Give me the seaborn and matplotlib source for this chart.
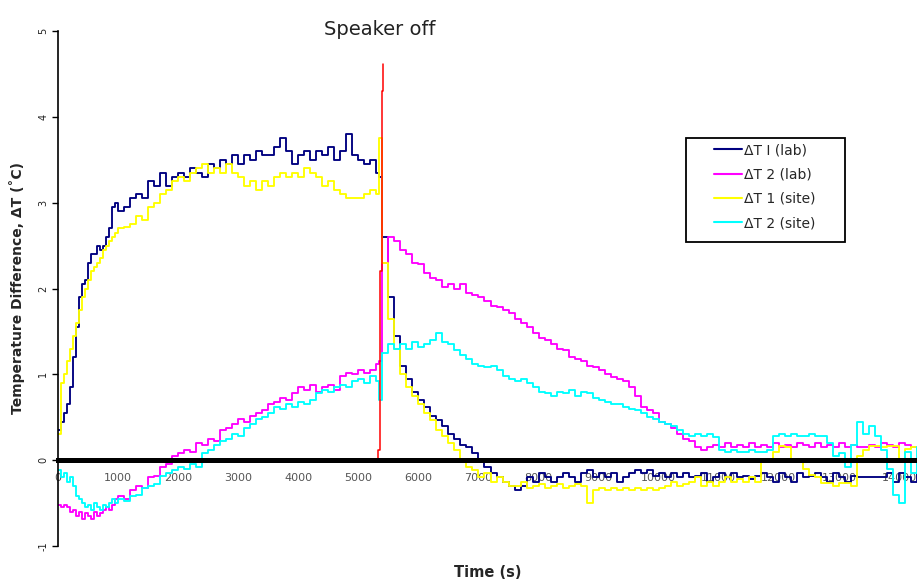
import numpy as np
import pandas as pd
import matplotlib
matplotlib.use("Agg")
import matplotlib.pyplot as plt
import seaborn as sns
from matplotlib.lines import Line2D
from matplotlib.patches import Rectangle

# ---------------- data ----------------
time_early = np.arange(0, 1000, 50)
time_mid = np.arange(1000, 5400, 100)
time_off = np.array([5350])
time_late = np.arange(5400, 14400, 100)
time_s = np.concatenate([time_early, time_mid, time_off, time_late])

dT1_lab = [
    0.35, 0.45, 0.55, 0.65, 0.85, 1.2, 1.55, 1.9, 2.05, 2.1,
    2.3, 2.4, 2.4, 2.5, 2.45, 2.5, 2.6, 2.7, 2.95, 3.0,
    2.9, 2.95, 3.05, 3.1, 3.05, 3.25, 3.2, 3.35, 3.2, 3.3,
    3.35, 3.3, 3.4, 3.35, 3.3, 3.45, 3.4, 3.5, 3.45, 3.55,
    3.45, 3.55, 3.5, 3.6, 3.55, 3.55, 3.65, 3.75, 3.6, 3.45,
    3.55, 3.6, 3.5, 3.6, 3.55, 3.65, 3.5, 3.6, 3.8, 3.55,
    3.5, 3.45, 3.5, 3.35,
    3.3,
    2.6, 1.9, 1.45, 1.1, 0.95, 0.8, 0.7, 0.62, 0.52, 0.47,
    0.4, 0.3, 0.25, 0.18, 0.15, 0.08, 0.0, -0.08, -0.15, -0.2,
    -0.25, -0.3, -0.35, -0.3, -0.2, -0.25, -0.15, -0.2, -0.25, -0.2,
    -0.15, -0.2, -0.25, -0.15, -0.12, -0.2, -0.15, -0.2, -0.15, -0.25,
    -0.2, -0.15, -0.12, -0.15, -0.12, -0.18, -0.15, -0.2, -0.15, -0.2,
    -0.15, -0.2, -0.18, -0.15, -0.25, -0.2, -0.15, -0.2, -0.15, -0.2,
    -0.18, -0.22, -0.18, -0.15, -0.2, -0.25, -0.15, -0.2, -0.25, -0.15,
    -0.2, -0.18, -0.15, -0.2, -0.25, -0.15, -0.2, -0.25, -0.18, -0.2,
    -0.2, -0.2, -0.2, -0.2, -0.15, -0.25, -0.15, -0.2, -0.25, -0.15,
]

dT2_lab = [
    -0.52, -0.55, -0.52, -0.55, -0.6, -0.58, -0.65, -0.6, -0.68, -0.62,
    -0.65, -0.68, -0.6, -0.65, -0.62, -0.58, -0.55, -0.58, -0.52, -0.45,
    -0.42, -0.45, -0.35, -0.3, -0.32, -0.2, -0.18, -0.08, -0.05, 0.05,
    0.08, 0.12, 0.1, 0.2, 0.18, 0.25, 0.22, 0.35, 0.38, 0.42,
    0.48, 0.45, 0.52, 0.55, 0.58, 0.65, 0.68, 0.72, 0.7, 0.78,
    0.85, 0.82, 0.88, 0.8, 0.85, 0.88, 0.82, 0.98, 1.02, 1.0,
    1.05, 1.02, 1.05, 1.12,
    1.15,
    2.3, 2.6, 2.55, 2.45, 2.4, 2.3, 2.28, 2.18, 2.12, 2.1,
    2.02, 2.05, 2.0, 2.05, 1.95, 1.92, 1.9, 1.85, 1.8, 1.78,
    1.75, 1.72, 1.65, 1.6, 1.55, 1.48, 1.42, 1.4, 1.35, 1.3,
    1.28, 1.2, 1.18, 1.15, 1.1, 1.08, 1.05, 1.0, 0.97, 0.95,
    0.92, 0.85, 0.75, 0.62, 0.58, 0.55, 0.45, 0.42, 0.38, 0.3,
    0.25, 0.22, 0.15, 0.12, 0.15, 0.18, 0.15, 0.2, 0.15, 0.18,
    0.15, 0.2, 0.15, 0.18, 0.15, 0.2, 0.15, 0.18, 0.15, 0.2,
    0.18, 0.15, 0.2, 0.15, 0.18, 0.15, 0.2, 0.15, 0.18, 0.15,
    0.15, 0.18, 0.15, 0.2, 0.18, 0.15, 0.2, 0.18, 0.15, 0.15,
]

dT1_site = [
    0.3, 0.9, 1.0, 1.15, 1.3, 1.45, 1.6, 1.75, 1.9, 2.0,
    2.1, 2.2, 2.25, 2.3, 2.35, 2.45, 2.5, 2.55, 2.6, 2.65,
    2.7, 2.72, 2.75, 2.85, 2.8, 2.95, 3.0, 3.1, 3.15, 3.25,
    3.3, 3.25, 3.35, 3.4, 3.45, 3.35, 3.4, 3.35, 3.45, 3.35,
    3.3, 3.2, 3.25, 3.15, 3.25, 3.2, 3.3, 3.35, 3.3, 3.35,
    3.3, 3.4, 3.35, 3.3, 3.2, 3.25, 3.15, 3.1, 3.05, 3.05,
    3.05, 3.1, 3.15, 3.1,
    3.75,
    2.3, 1.65, 1.3, 1.0, 0.85, 0.75, 0.65, 0.55, 0.47, 0.35,
    0.28, 0.2, 0.12, 0.0, -0.08, -0.12, -0.2, -0.15, -0.25, -0.2,
    -0.25, -0.3, -0.3, -0.25, -0.32, -0.3, -0.28, -0.32, -0.3, -0.28,
    -0.32, -0.3, -0.28, -0.3, -0.5, -0.35, -0.32, -0.35, -0.33, -0.35,
    -0.32, -0.35, -0.33, -0.35, -0.32, -0.35, -0.33, -0.3, -0.25, -0.3,
    -0.28, -0.25, -0.2, -0.3, -0.25, -0.3, -0.25, -0.2, -0.25, -0.22,
    -0.25, -0.2, -0.25, -0.02, 0.0, 0.1, 0.17, 0.15, -0.02, 0.0,
    -0.1, -0.17, -0.2, -0.27, -0.27, -0.3, -0.27, -0.27, -0.3, 0.05,
    0.12, 0.16, 0.16, 0.15, 0.16, 0.16, 0.0, 0.13, 0.15, 0.13,
]

dT2_site = [
    -0.12, -0.2, -0.15, -0.25, -0.2, -0.3, -0.42, -0.45, -0.5, -0.55,
    -0.52, -0.58, -0.5, -0.55, -0.58, -0.52, -0.55, -0.5, -0.45, -0.5,
    -0.45, -0.48, -0.42, -0.4, -0.32, -0.3, -0.28, -0.18, -0.15, -0.12,
    -0.08, -0.1, -0.05, -0.08, 0.08, 0.12, 0.18, 0.22, 0.25, 0.3,
    0.28, 0.38, 0.42, 0.48, 0.5, 0.55, 0.62, 0.6, 0.65, 0.62,
    0.68, 0.65, 0.7, 0.78, 0.82, 0.8, 0.85, 0.88, 0.85, 0.92,
    0.95, 0.9, 0.98, 0.92,
    0.7,
    1.25, 1.35, 1.3, 1.35, 1.3, 1.38, 1.32, 1.35, 1.4, 1.48,
    1.38, 1.35, 1.28, 1.22, 1.18, 1.12, 1.1, 1.08, 1.1, 1.05,
    0.98, 0.95, 0.92, 0.95, 0.9, 0.85, 0.8, 0.78, 0.75, 0.8,
    0.78, 0.82, 0.75, 0.8, 0.78, 0.72, 0.7, 0.68, 0.65, 0.65,
    0.62, 0.6, 0.58, 0.55, 0.5, 0.48, 0.45, 0.42, 0.4, 0.35,
    0.3, 0.28, 0.3, 0.28, 0.3, 0.27, 0.12, 0.1, 0.12, 0.1,
    0.1, 0.12, 0.1, 0.1, 0.12, 0.28, 0.3, 0.28, 0.3, 0.28,
    0.28, 0.3, 0.28, 0.28, 0.2, 0.05, 0.08, -0.08, 0.18, 0.45,
    0.3, 0.4, 0.28, 0.12, -0.1, -0.4, -0.5, 0.1, -0.15, 0.15,
]

speaker_time = [5300, 5330, 5360, 5390, 5410]
speaker_value = [0.0, 0.12, 2.2, 4.3, 4.62]

series_names = ["ΔT I (lab)", "ΔT 2 (lab)", "ΔT 1 (site)", "ΔT 2 (site)"]
series_values = [dT1_lab, dT2_lab, dT1_site, dT2_site]
series_colors = ["#000080", "#FF00FF", "#FFFF00", "#00FFFF"]

y_ticks = [-1, 0, 1, 2, 3, 4, 5]
x_ticks = list(range(0, 15000, 1000))

# ---------------- long-form table ----------------
frames = []
for name, vals in zip(series_names, series_values):
    frames.append(pd.DataFrame({"time": time_s, "value": vals, "series": name}))
df = pd.concat(frames, ignore_index=True)
df_speaker = pd.DataFrame({"time": speaker_time, "value": speaker_value})

# ---------------- plot ----------------
sns.set_style("white")
plt.rcParams["font.family"] = ["DejaVu Sans"]

fig = plt.figure(figsize=(9.17, 5.86), dpi=100)
ax = fig.add_axes([58 / 917, 40 / 586, 1 - 58 / 917, 515 / 586])

sns.lineplot(data=df, x="time", y="value", hue="series",
             hue_order=series_names, palette=dict(zip(series_names, series_colors)),
             estimator=None, sort=False, drawstyle="steps-post",
             linewidth=1.35, legend=False, ax=ax)
sns.lineplot(data=df_speaker, x="time", y="value", color="#FF0000",
             estimator=None, sort=False, drawstyle="steps-post",
             linewidth=1.1, legend=False, ax=ax)

ax.set_xlim(0, 14300)
ax.set_ylim(-1, 5)
ax.set_axisbelow(True)

for s in ["top", "right"]:
    ax.spines[s].set_visible(False)
ax.spines["left"].set_color("black")
ax.spines["left"].set_linewidth(1.2)
ax.spines["bottom"].set_position(("data", 0))
ax.spines["bottom"].set_color("black")
ax.spines["bottom"].set_linewidth(3.6)

ax.set_yticks(y_ticks)
ax.set_yticklabels([str(v) for v in y_ticks])
ax.set_xticks(x_ticks)
ax.set_xticklabels([str(v) for v in x_ticks])
ax.tick_params(axis="y", direction="out", length=4, width=1, color="black",
               labelsize=7, labelrotation=90, pad=3, labelcolor="#222222", left=True)
ax.tick_params(axis="x", length=0, labelsize=8, pad=9, labelcolor="#555555")
for lbl in ax.get_yticklabels():
    lbl.set_va("center")

ax.set_xlabel("Time (s)", fontsize=10.5, fontweight="bold")
ax.xaxis.set_label_coords(0.5, -0.037)
ax.set_ylabel("Temperature Difference, ΔT (˚C)", fontsize=10, fontweight="bold")
ax.yaxis.set_label_coords(-0.038, 0.5)

ax.text(5350, 5.02, "Speaker off", ha="center", va="center", fontsize=14,
        color="#222222", clip_on=False)

# legend
handles = [Line2D([0], [0], color=c, lw=1.5) for c in series_colors]
leg = fig.legend(handles, series_names, loc="upper left",
                 bbox_to_anchor=(714 / 917, 1 - 143 / 586), frameon=False,
                 fontsize=10, handlelength=2.0, handletextpad=0.15,
                 labelspacing=0.75, borderpad=0, borderaxespad=0)
fig.add_artist(Rectangle((686 / 917, 1 - 242 / 586), 159 / 917, 104 / 586,
                         transform=fig.transFigure, fill=False,
                         edgecolor="black", linewidth=1.3))

fig.savefig("out.png", dpi=100)
